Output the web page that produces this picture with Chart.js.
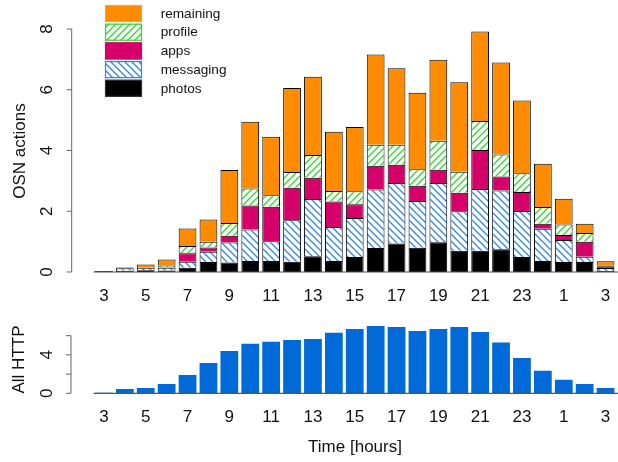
<!DOCTYPE html>
<html><head><meta charset="utf-8">
<script src="https://cdn.jsdelivr.net/npm/chart.js@4/dist/chart.umd.min.js"></script>
<style>
html,body{margin:0;padding:0;background:#fff;}
#wrap{position:relative;width:618px;height:462px;overflow:hidden;}
canvas{position:absolute;left:0;top:0;}
</style></head><body>
<div id="wrap"><canvas id="top" width="618" height="462"></canvas><canvas id="bot" width="618" height="462"></canvas></div>
<script>
// ---- data ----
const hours = ["3","4","5","6","7","8","9","10","11","12","13","14","15","16","17","18","19","20","21","22","23","0","1","2","3"];
const photos    = [0.03,0.04,0.06,0.05,0.14,0.33,0.31,0.36,0.36,0.34,0.52,0.36,0.49,0.79,0.94,0.80,0.98,0.70,0.70,0.75,0.49,0.36,0.33,0.33,0.03];
const messaging = [0.00,0.08,0.08,0.09,0.20,0.34,0.66,1.04,0.65,1.36,1.88,1.12,1.29,1.93,1.99,1.54,1.95,1.30,2.03,1.93,1.52,1.06,0.72,0.17,0.10];
const apps      = [0.00,0.00,0.00,0.02,0.28,0.14,0.22,0.79,1.14,1.07,0.70,0.84,0.45,0.78,0.60,0.50,0.44,0.61,1.29,0.46,0.62,0.17,0.17,0.50,0.06];
const profile   = [0.00,0.00,0.00,0.05,0.24,0.19,0.42,0.56,0.38,0.52,0.75,0.35,0.43,0.69,0.66,0.54,0.95,0.69,0.95,0.73,0.62,0.55,0.34,0.28,0.02];
const remaining = [0.00,0.03,0.11,0.20,0.57,0.73,1.75,2.20,1.92,2.77,2.58,1.95,2.11,2.97,2.52,2.52,2.67,2.95,2.95,3.03,2.40,1.42,0.85,0.31,0.14];
const allHttp   = [0.05,0.45,0.55,0.97,1.90,3.16,4.41,5.17,5.38,5.55,5.66,6.31,6.70,7.01,6.90,6.49,6.70,6.90,6.39,5.28,3.68,2.36,1.42,0.97,0.55];
const osnTicks = [0,2,4,6,8];
const osnTickLabels = ["0","2","4","6","8"];
const httpTicks = [0,2,4,6];
const httpTickLabels = ["0","","4",""];
const xTickLabels = ["3","","5","","7","","9","","11","","13","","15","","17","","19","","21","","23","","1","","3"];

// ---- styling helpers ----
const FONT = '"Liberation Sans", Arial, Helvetica, sans-serif';
function hatch(color, dir){
  const s = 7, c = document.createElement('canvas');
  c.width = s; c.height = s;
  const g = c.getContext('2d');
  g.fillStyle = '#fff'; g.fillRect(0,0,s,s);
  g.strokeStyle = color; g.lineWidth = 1.3;
  g.beginPath();
  if (dir === '/') {
    g.moveTo(0,s); g.lineTo(s,0);
    g.moveTo(-1,1); g.lineTo(1,-1);
    g.moveTo(s-1,s+1); g.lineTo(s+1,s-1);
  } else {
    g.moveTo(0,0); g.lineTo(s,s);
    g.moveTo(-1,s-1); g.lineTo(1,s+1);
    g.moveTo(s-1,-1); g.lineTo(s+1,1);
  }
  g.stroke();
  return g.createPattern(c,'repeat');
}
const ORANGE = '#FF8C00', PINK = '#D6006A', BLUE_L = '#2F86E0', GREEN_L = '#2FD82F', HTTP = '#006AD8';

function axesPlugin(o){
  return {
    id: 'raxes',
    afterDraw(chart){
      const ctx = chart.ctx, xs = chart.scales.x, ys = chart.scales.y, ca = chart.chartArea;
      ctx.save();
      // baseline
      ctx.strokeStyle = '#555'; ctx.lineWidth = 1.2;
      const y0 = ys.getPixelForValue(0);
      ctx.beginPath(); ctx.moveTo(ca.left, y0); ctx.lineTo(618, y0); ctx.stroke();
      // y axis
      ctx.strokeStyle = '#666'; ctx.lineWidth = 1;
      const ax = o.axisX;
      const yt = ys.getPixelForValue(o.ticks[o.ticks.length-1]);
      ctx.beginPath(); ctx.moveTo(ax, y0); ctx.lineTo(ax, yt); ctx.stroke();
      ctx.fillStyle = '#111';
      ctx.font = '17px ' + FONT;
      o.ticks.forEach((t,i)=>{
        const py = ys.getPixelForValue(t);
        ctx.beginPath(); ctx.moveTo(ax, py); ctx.lineTo(ax-5, py); ctx.stroke();
        if (o.tickLabels[i]) {
          ctx.save(); ctx.translate(o.labelX, py); ctx.rotate(-Math.PI/2);
          ctx.textAlign = 'center'; ctx.textBaseline = 'middle';
          ctx.fillText(o.tickLabels[i], 0, 0); ctx.restore();
        }
      });
      // y title
      ctx.save(); ctx.translate(o.titleX, o.titleY); ctx.rotate(-Math.PI/2);
      ctx.textAlign = 'center'; ctx.textBaseline = 'middle';
      ctx.fillText(o.title, 0, 0); ctx.restore();
      // x tick labels
      ctx.textAlign = 'center'; ctx.textBaseline = 'middle';
      xTickLabels.forEach((l,i)=>{ if(l) ctx.fillText(l, xs.getPixelForValue(i), o.xLabelY); });
      if (o.xTitle) ctx.fillText(o.xTitle, 355, o.xTitleY);
      // legend
      if (o.legend) {
        ctx.font = '13.6px ' + FONT;
        ctx.textAlign = 'left';
        const ds = chart.data.datasets.slice().reverse();
        ds.forEach((d,i)=>{
          const by = 5 + i*18.7;
          ctx.fillStyle = d.backgroundColor;
          ctx.fillRect(105, by, 37, 17);
          ctx.strokeStyle = d.legendBorder; ctx.lineWidth = 1.2;
          ctx.strokeRect(105.5, by+0.5, 36, 16);
          ctx.fillStyle = '#111';
          ctx.fillText(d.label, 160.7, by + 9);
        });
      }
      ctx.restore();
    }
  };
}

const mk = (label, data, bg, lb) => ({label, data, backgroundColor: bg, legendBorder: lb,
  borderColor: '#000', borderWidth: 1, barPercentage: 0.85, categoryPercentage: 1});

new Chart(document.getElementById('top'), {
  type: 'bar',
  data: { labels: hours, datasets: [
    mk('photos', photos, '#000', '#333'),
    mk('messaging', messaging, hatch(BLUE_L,'\\'), BLUE_L),
    mk('apps', apps, PINK, PINK),
    mk('profile', profile, hatch(GREEN_L,'/'), GREEN_L),
    mk('remaining', remaining, ORANGE, '#FFA030')
  ]},
  options: {
    responsive: false, animation: false, devicePixelRatio: 1,
    layout: { padding: { left: 93.5, right: 2, top: 29, bottom: 190 } },
    plugins: { legend: { display: false }, tooltip: { enabled: false } },
    scales: {
      x: { display: false, stacked: true },
      y: { display: false, stacked: true, min: 0, max: 8 }
    }
  },
  plugins: [axesPlugin({axisX: 71.7, labelX: 47.5, ticks: osnTicks, tickLabels: osnTickLabels,
    title: 'OSN actions', titleX: 20, titleY: 151, xLabelY: 296.7, legend: true})]
});

new Chart(document.getElementById('bot'), {
  type: 'bar',
  data: { labels: hours, datasets: [
    { label: 'All HTTP', data: allHttp, backgroundColor: HTTP, borderWidth: 0, barPercentage: 0.85, categoryPercentage: 1 }
  ]},
  options: {
    responsive: false, animation: false, devicePixelRatio: 1,
    layout: { padding: { left: 93.5, right: 2, top: 323.2, bottom: 68.7 } },
    plugins: { legend: { display: false }, tooltip: { enabled: false } },
    scales: {
      x: { display: false },
      y: { display: false, min: 0, max: 7.3 }
    }
  },
  plugins: [axesPlugin({axisX: 71, labelX: 47.5, ticks: httpTicks, tickLabels: httpTickLabels,
    title: 'All HTTP', titleX: 19, titleY: 359.5, xLabelY: 417.5, xTitle: 'Time [hours]', xTitleY: 447.5})]
});
</script>
</body></html>
